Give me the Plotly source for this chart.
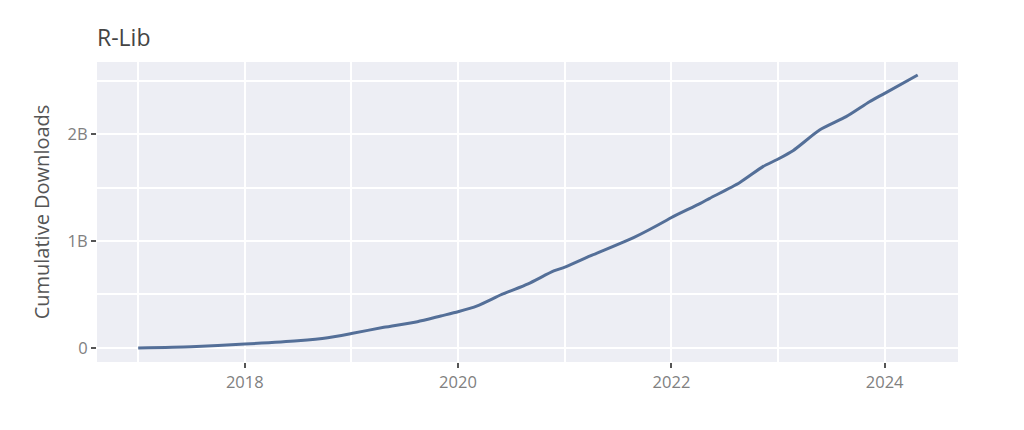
import plotly.graph_objects as go

dates = ["2017-01-01", "2017-07-01", "2018-01-01", "2018-07-01", "2018-10-12",
         "2019-01-01", "2019-04-22", "2019-08-15", "2019-11-03",
         "2020-01-01", "2020-03-07", "2020-05-30", "2020-08-28", "2020-11-24",
         "2021-01-01", "2021-03-29", "2021-08-26", "2021-12-17",
         "2022-01-01", "2022-04-10", "2022-05-12", "2022-08-22", "2022-11-10",
         "2023-01-01", "2023-02-21", "2023-05-23", "2023-08-22", "2023-11-10",
         "2024-01-01", "2024-04-23"]
downloads = [0.0, 0.012e9, 0.037e9, 0.068e9, 0.096e9,
             0.135e9, 0.193e9, 0.246e9, 0.299e9,
             0.338e9, 0.393e9, 0.50e9, 0.60e9, 0.72e9,
             0.755e9, 0.86e9, 1.034e9, 1.196e9,
             1.22e9, 1.352e9, 1.399e9, 1.545e9, 1.695e9,
             1.766e9, 1.844e9, 2.037e9, 2.162e9, 2.302e9,
             2.38e9, 2.551e9]

title_text = "R-Lib"
y_title = "Cumulative Downloads"

fig = go.Figure()
fig.add_trace(go.Scatter(x=dates, y=downloads, mode="lines",
                         line=dict(color="rgb(84,111,152)", width=3, shape="spline", smoothing=0.6),
                         showlegend=False))

fig.update_layout(
    template="seaborn",
    width=1024, height=430,
    margin=dict(l=89, r=74, t=54, b=76, autoexpand=False),
    plot_bgcolor="rgb(237,238,244)",
    paper_bgcolor="white",
    font=dict(family="Open Sans", color="#6f6f6f", size=16),
    title=dict(text=title_text, xref="paper", x=0, xanchor="left",
               yref="container", y=1-30/430, yanchor="middle",
               font=dict(size=23, color="#444444")),
)
fig.update_xaxes(
    range=["2016-08-13", "2024-09-08"],
    dtick="M24", tick0="2018-01-01", tickformat="%Y",
    ticks="outside", ticklen=5, tickcolor="#555555", tickwidth=2,
    showgrid=True, gridcolor="white", gridwidth=2,
    minor=dict(dtick="M12", tick0="2017-01-01", showgrid=True, gridcolor="white", gridwidth=2, ticks=""),
    showline=False, zeroline=False,
    tickfont=dict(size=16.5, color="#808080"),
)
fig.update_yaxes(
    range=[-0.131e9, 2.673e9],
    dtick=1e9, tick0=0, exponentformat="B",
    ticks="outside", ticklen=5, tickcolor="#555555", tickwidth=2,
    showgrid=True, gridcolor="white", gridwidth=2,
    minor=dict(dtick=0.5e9, showgrid=True, gridcolor="white", gridwidth=2, ticks=""),
    showline=False, zeroline=False,
    title=dict(text=y_title, font=dict(size=20, color="#555555"), standoff=12),
    tickfont=dict(size=16.5, color="#808080"),
)

fig.write_html("out.html")
